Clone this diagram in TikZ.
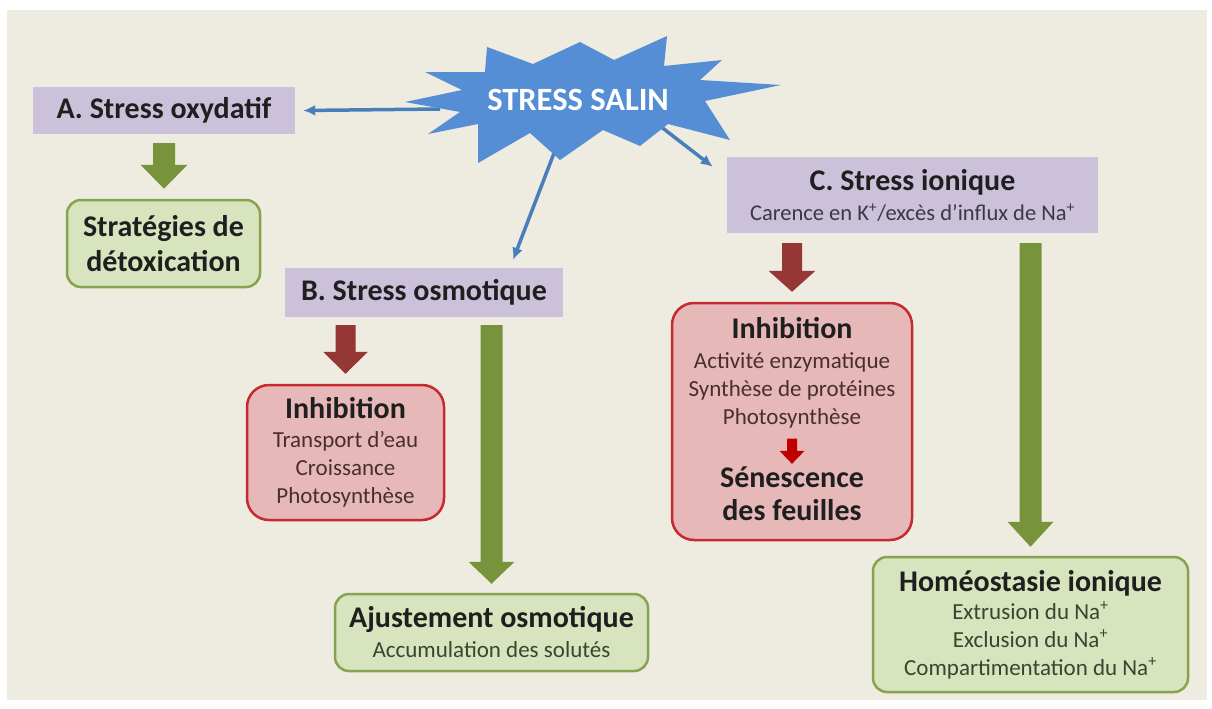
\documentclass[tikz,border=0pt]{standalone}
\usepackage{fontspec}
\setmainfont{Carlito}
\usetikzlibrary{calc,arrows.meta}

\definecolor{fondbeige}{HTML}{EEEBE0}
\definecolor{lavande}{HTML}{CCC1DA}
\definecolor{vertpale}{HTML}{D7E4BD}
\definecolor{vertbord}{HTML}{86A450}
\definecolor{vertfleche}{HTML}{77933C}
\definecolor{rosepale}{HTML}{E6B9B8}
\definecolor{rougebord}{HTML}{C62A30}
\definecolor{rougefleche}{HTML}{953735}
\definecolor{rougevif}{HTML}{C00000}
\definecolor{bleuetoile}{HTML}{558ED5}
\definecolor{bleufleche}{HTML}{4A7EBB}
\definecolor{encre}{HTML}{1F1F1F}
\definecolor{encreverte}{HTML}{3A4530}
\definecolor{encrerouge}{HTML}{4A2E2E}
\definecolor{encreviolette}{HTML}{3A3846}

\newcommand{\titre}{\bfseries\fontsize{30}{34}\selectfont\color{encre}}
\newcommand{\detail}{\fontsize{23}{28}\selectfont}
% fleche epaisse : couleur, demi-tige, demi-tete, longueur tete, depart, pointe
\newcommand{\grossefleche}[6]{%
  \fill[#1] let \p1=#5, \p2=#6 in
    (\x1-#2pt,\y1) -- (\x1+#2pt,\y1) -- (\x1+#2pt,\y2+#4pt) -- (\x1+#3pt,\y2+#4pt)
    -- (\x1,\y2) -- (\x1-#3pt,\y2+#4pt) -- (\x1-#2pt,\y2+#4pt) -- cycle;}

\begin{document}
\begin{tikzpicture}[x=1pt,y=-1pt,
  stressbox/.style={fill=lavande, align=center, inner sep=0pt, text=encre},
  vertbox/.style={fill=vertpale, draw=vertbord, line width=2.5pt, rounded corners=14pt,
    align=center, inner sep=0pt, text=encreverte, font=\detail},
  rougebox/.style={fill=rosepale, draw=rougebord, line width=2.5pt, rounded corners=22pt,
    align=center, inner sep=0pt, text=encrerouge, font=\detail},
  fleche/.style={draw=bleufleche, line width=3.5pt, -{Latex[length=12pt,width=11pt]}}]

\useasboundingbox (0,0) rectangle (1212,709);
\fill[white] (0,0) rectangle (1212,709);
\fill[fondbeige] (7,10) rectangle (1207,700);

% cadres
\node[stressbox, minimum width=262pt, minimum height=47pt] (boxA) at (164,110.5)
  {\titre A. Stress oxydatif};
\node[vertbox, minimum width=193pt, minimum height=87pt, text=encre,
  font=\bfseries\fontsize{30}{35}\selectfont] (strat) at (163.5,243.5)
  {Stratégies de\\détoxication};
\node[stressbox, minimum width=278pt, minimum height=49pt] (boxB) at (424,292.5)
  {\titre B. Stress osmotique};
\node[rougebox, minimum width=197pt, minimum height=135pt] (inhB) at (345.5,452.5)
  {{\titre Inhibition}\\[1pt]Transport d’eau\\Croissance\\Photosynthèse};
\node[vertbox, minimum width=313pt, minimum height=77pt] (ajust) at (491.5,632.5)
  {{\titre Ajustement osmotique}\\[2pt]Accumulation des solutés};
\node[stressbox, minimum width=371pt, minimum height=76pt, text=encreviolette,
  font=\fontsize{22.5}{28}\selectfont] (boxC) at (912.5,195)
  {{\titre C. Stress ionique}\\[2pt]Carence en K\textsuperscript{+}/excès d’influx de Na\textsuperscript{+}};
\node[rougebox, minimum width=240pt, minimum height=237pt] (inhC) at (792,421.5) {};
\node[align=center, inner sep=0pt, text=encrerouge, font=\detail] (inhCliste) at (792,373)
  {{\titre Inhibition}\\[2pt]Activité enzymatique\\Synthèse de protéines\\Photosynthèse};
\node[align=center, inner sep=0pt, text=encre,
  font=\bfseries\fontsize{30}{33}\selectfont] (inhCsen) at (792,494)
  {Sénescence\\des feuilles};
\node[vertbox, minimum width=315pt, minimum height=135pt] (homeo) at (1030.5,624.5)
  {{\titre Homéostasie ionique}\\Extrusion du Na\textsuperscript{+}\\Exclusion du Na\textsuperscript{+}\\Compartimentation du Na\textsuperscript{+}};

% fleches bleues sous l'etoile
\coordinate (sA) at (440,109);
\coordinate (sB) at (556,148);
\coordinate (sC) at (660,126);
\draw[fleche] (sA) -- ([xshift=8pt]boxA.east);
\draw[fleche] (sB) -- ($(boxB.north west)!0.82!(boxB.north east)+(0,-8)$);
\draw[fleche] (sC) -- ($(boxC.north west)+(-14,10)$);

% etoile
\fill[bleuetoile] (405,102) -- (462,90) -- (425,72) -- (485,72) -- (487,47) -- (533,64)
  -- (580,42) -- (614,60) -- (667,36) -- (664,66) -- (722,60) -- (700,80) -- (781,85)
  -- (705,101) -- (730,140) -- (668,124) -- (640,146) -- (603,130)
  -- (560,160) -- (530,133) -- (478,163) -- (478,124) -- (428,134) -- (460,112) -- cycle;
\node[text=white, font=\bfseries\fontsize{32.5}{36}\selectfont] (salin) at (578,100) {STRESS SALIN};

% fleches epaisses
\grossefleche{vertfleche}{11}{23.5}{24}{($(boxA.south)+(0,9)$)}{($(strat.north)+(0,-10)$)}
\grossefleche{rougefleche}{10}{22.5}{22}{($(inhB.north |- boxB.south)+(0,8)$)}{($(inhB.north)+(0,-10)$)}
\grossefleche{vertfleche}{11}{23}{22}{($(ajust.north |- boxB.south)+(0,8)$)}{($(ajust.north)+(0,-9)$)}
\grossefleche{rougefleche}{10}{23.5}{21}{($(inhC.north |- boxC.south)+(0,10)$)}{($(inhC.north)+(0,-10)$)}
\grossefleche{vertfleche}{11}{23}{25}{($(homeo.north |- boxC.south)+(0,10)$)}{($(homeo.north)+(0,-9)$)}
\grossefleche{rougevif}{5}{12.5}{13}{($(inhCliste.south)+(0,10)$)}{($(inhCsen.north)+(0,-3)$)}
\end{tikzpicture}
\end{document}
